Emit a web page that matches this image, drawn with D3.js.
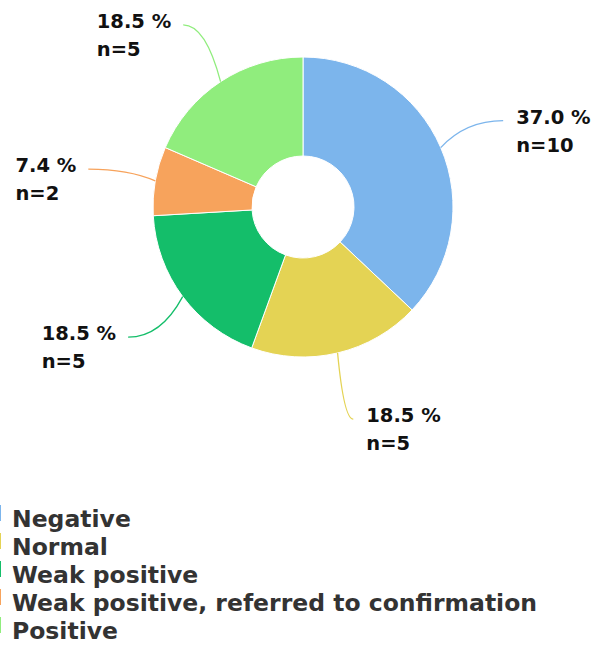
<!DOCTYPE html>
<html>
<head>
<meta charset="utf-8">
<script src="https://cdn.jsdelivr.net/npm/d3@7"></script>
<style>
  body { margin: 0; background: #fff; }
  svg { display: block; font-family: "DejaVu Sans", sans-serif; }
  .data-label { font-weight: bold; fill: #111; }
  .legend-label { font-weight: bold; fill: #333; }
</style>
</head>
<body>
<svg width="591" height="650"></svg>
<script>
var categories = ['Negative', 'Normal', 'Weak positive', 'Weak positive, referred to confirmation', 'Positive'];
var counts = [10, 5, 5, 2, 5];
var percents = ['37.0 %', '18.5 %', '18.5 %', '7.4 %', '18.5 %'];
var colors = ['#7cb5ec', '#e4d354', '#14be6a', '#f7a35c', '#90ed7d'];

var svg = d3.select('svg');

var center = {x: 303, y: 207};
var outerR = 150;
var innerR = 51;
var labelR = 218;

var data = categories.map(function(c, i) {
    return {name: c, value: counts[i], pct: percents[i], color: colors[i]};
});

var pie = d3.pie()
    .sort(null)
    .value(function(d) { return d.value; });

var arc = d3.arc()
    .innerRadius(innerR)
    .outerRadius(outerR);

var arcs = pie(data);

var chart = svg.append('g')
    .attr('transform', 'translate(' + [center.x, center.y] + ')');

chart.selectAll('.slice')
    .data(arcs)
    .enter()
    .append('path')
    .attr('class', 'slice')
    .attr('d', arc)
    .attr('fill', function(d) { return d.data.color; })
    .attr('stroke', '#fff')
    .attr('stroke-width', 1);

// connector + label positions along each slice's mid angle
function midAngle(d) { return (d.startAngle + d.endAngle) / 2; }
function polar(r, a) { return [r * Math.sin(a), -r * Math.cos(a)]; }

var labels = chart.selectAll('.label-group')
    .data(arcs)
    .enter()
    .append('g')
    .attr('class', 'label-group');

labels.append('path')
    .attr('fill', 'none')
    .attr('stroke', function(d) { return d.data.color; })
    .attr('stroke-width', 1.3)
    .attr('d', function(d) {
        var a = midAngle(d);
        var p = polar(outerR, a);
        var e = polar(labelR, a);
        var cx = e[0] + (p[0] - e[0]) * 0.6;
        return 'M' + e + 'Q' + [cx, e[1]] + ' ' + p;
    });

var text = labels.append('text')
    .attr('class', 'data-label')
    .style('font-size', '19.5px');

text.append('tspan')
    .attr('x', 0)
    .attr('y', 0)
    .text(function(d) { return d.data.pct; });
text.append('tspan')
    .attr('x', 0)
    .attr('y', 28)
    .text(function(d) { return 'n=' + d.data.value; });

// left-side labels keep left alignment, so shift by their own width
text.attr('transform', function(d) {
    var a = midAngle(d);
    var e = polar(labelR, a);
    var tx = e[0] + 13;
    if (a >= Math.PI) {
        var w = d3.select(this).select('tspan').node().getComputedTextLength();
        tx = e[0] - 12 - w;
    }
    return 'translate(' + [tx, e[1] + 3] + ')';
});

// legend, symbols sit mostly past the left edge
var legend = svg.selectAll('.legend-item')
    .data(data)
    .enter()
    .append('g')
    .attr('class', 'legend-item')
    .attr('transform', function(d, i) { return 'translate(0,' + (527 + i * 28) + ')'; });

legend.append('rect')
    .attr('x', -14)
    .attr('y', -22)
    .attr('width', 15)
    .attr('height', 16)
    .attr('fill', function(d) { return d.color; });

legend.append('text')
    .attr('class', 'legend-label')
    .attr('x', 12)
    .style('font-size', '23.5px')
    .text(function(d) { return d.name; });
</script>
</body>
</html>
